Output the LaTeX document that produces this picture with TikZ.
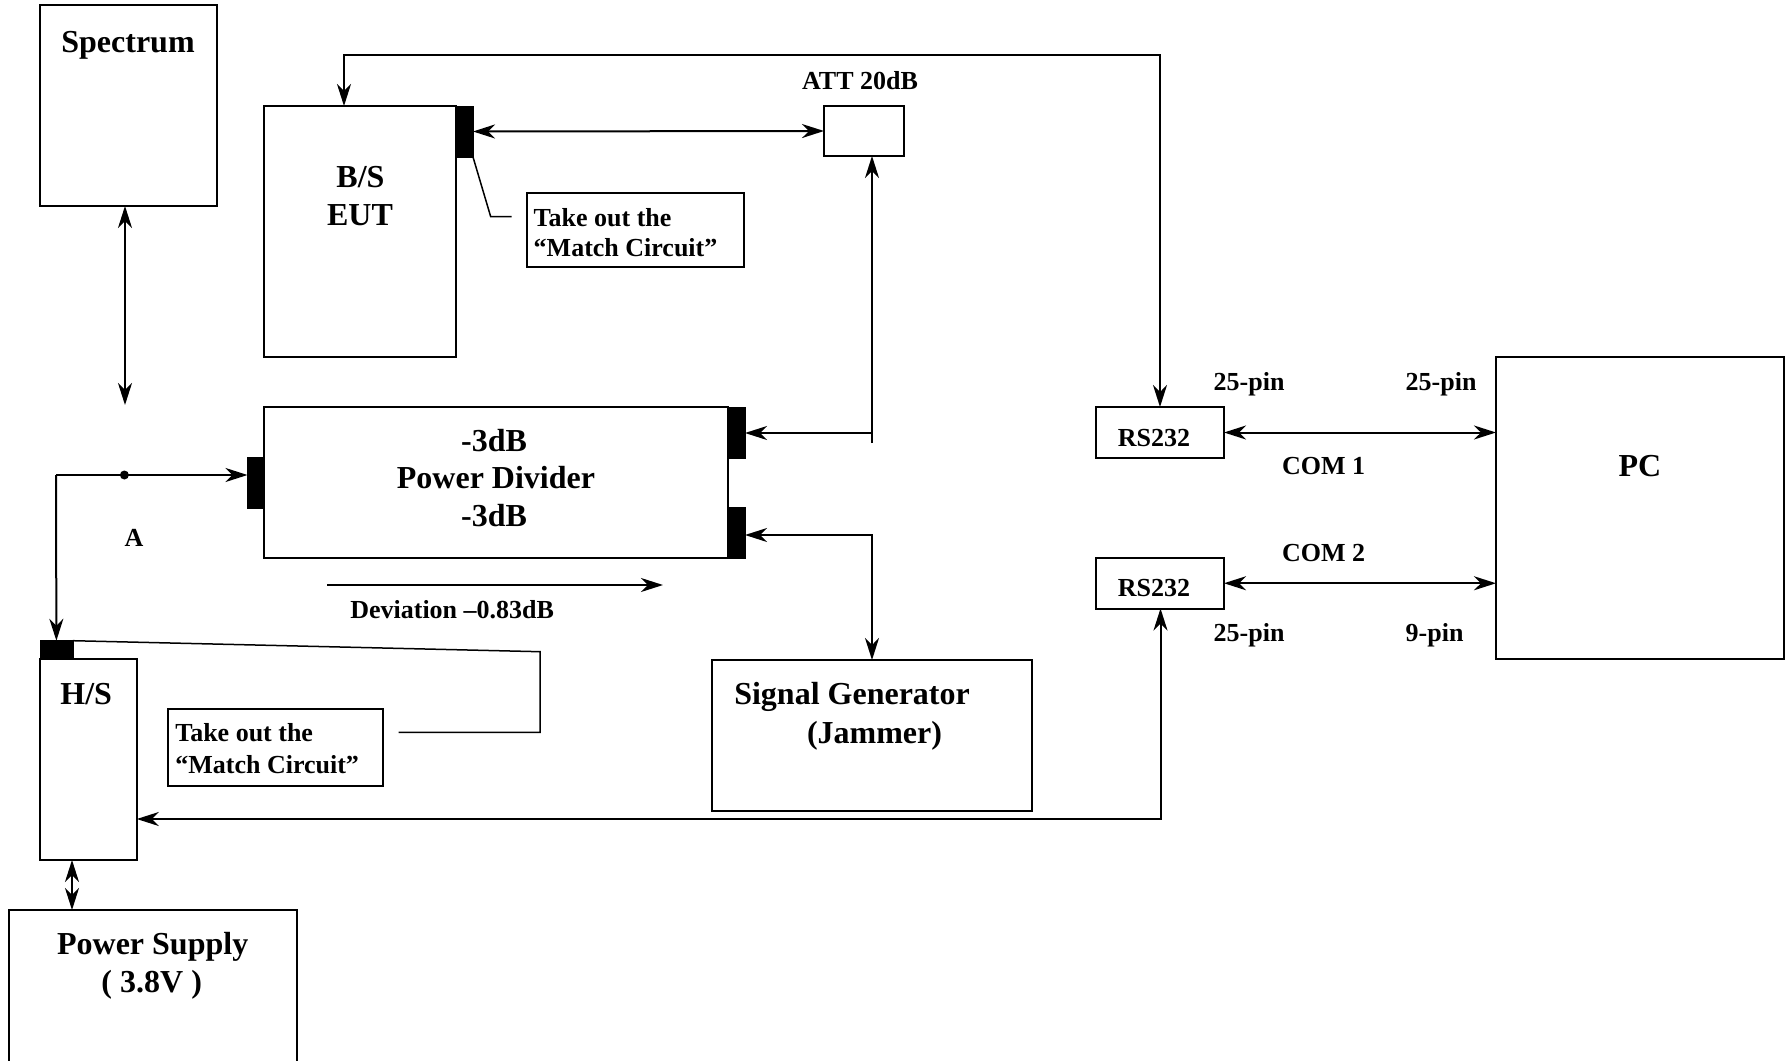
\documentclass[tikz,border=0pt]{standalone}
\usepackage{fontspec}
\setmainfont{Liberation Serif}
\usetikzlibrary{arrows.meta}
\begin{document}
\begin{tikzpicture}[x=1pt,y=-1pt,
  line width=2pt,
  >={Stealth[length=22pt,width=14pt,inset=7pt]},
  box/.style={draw,line width=2pt,inner sep=0pt,outer sep=0pt},
  port/.style={fill=black,draw=black,line width=0.5pt,inner sep=0pt,outer sep=0pt},
  big/.style={font=\fontsize{32}{36}\selectfont\bfseries,anchor=base,inner sep=0pt},
  sm/.style={font=\fontsize{26}{30}\selectfont\bfseries,anchor=base,inner sep=0pt},
  smw/.style={font=\fontsize{26}{30}\selectfont\bfseries,anchor=base west,inner sep=0pt},
  bigw/.style={font=\fontsize{32}{36}\selectfont\bfseries,anchor=base west,inner sep=0pt},
  dot/.style={circle,fill=black,inner sep=0pt,minimum size=9pt}]
\useasboundingbox (0,0) rectangle (1790,1060);
\clip (0,0) rectangle (1790,1060);
\fill[white] (0,0) rectangle (1790,1060);

% boxes
\node[box,minimum width=177pt,minimum height=201pt] (spec) at (128.5,105.5) {};
\node[box,minimum width=192pt,minimum height=251pt] (eut) at (360,231.5) {};
\node[port,minimum width=17pt,minimum height=51pt] (eutc) at (464.5,131.5) {};
\node[box,minimum width=80pt,minimum height=50pt] (att) at (864,131) {};
\node[box,minimum width=217pt,minimum height=74pt] (note1) at (635.5,230) {};
\node[box,minimum width=464pt,minimum height=151pt] (pd) at (496,482.5) {};
\node[port,minimum width=16.5pt,minimum height=51pt] (pdl) at (255.75,482.5) {};
\node[port,minimum width=17pt,minimum height=51pt] (pdr1) at (736.5,432.5) {};
\node[port,minimum width=17pt,minimum height=51pt] (pdr2) at (736.5,532.5) {};
\node[box,minimum width=320pt,minimum height=151pt] (sg) at (872,735.5) {};
\node[box,minimum width=128pt,minimum height=51pt] (rs1) at (1160,432.5) {};
\node[box,minimum width=128pt,minimum height=50.5pt] (rs2) at (1160,583.25) {};
\node[box,minimum width=288pt,minimum height=301.5pt] (pc) at (1640,507.75) {};
\node[box,minimum width=96.8pt,minimum height=201pt] (hs) at (88.4,759) {};
\node[port,minimum width=32.8pt,minimum height=17.6pt] (hsc) at (56.4,649.5) {};
\node[box,minimum width=215pt,minimum height=77.5pt] (note2) at (275.5,747.25) {};
\node[box,minimum width=288pt,minimum height=170pt] (ps) at (153,995) {};

% texts
\node[big] (tspec) at (128,52) {Spectrum};
\node[big] (tbs) at (360.5,187) {B/S};
\node[big] (teut) at (360,225) {EUT};
\node[sm] (tatt) at (860,89) {ATT 20dB};
\node[smw] (tn1a) at (532.7,226.7) {Take out the};
\node[smw] (tn1b) at (532.7,256.7) {“Match Circuit”};
\node[big] (tpd1) at (494,451.7) {-3dB};
\node[big] (tpd2) at (496,488.3) {Power Divider};
\node[big] (tpd3) at (494,526.7) {-3dB};
\node[smw] (tdev) at (349.3,618.3) {Deviation –0.83dB};
\node[bigw] (tsg1) at (733.3,704.3) {Signal Generator};
\node[bigw] (tsg2) at (806,743.3) {(Jammer)};
\node[sm] (trs1) at (1154,446) {RS232};
\node[sm] (trs2) at (1154,596.7) {RS232};
\node[smw] (tp1) at (1212.7,390.7) {25-pin};
\node[smw] (tp2) at (1404.7,390.7) {25-pin};
\node[smw] (tcom1) at (1281,474.3) {COM 1};
\node[smw] (tcom2) at (1281,561.7) {COM 2};
\node[smw] (tp3) at (1212.7,641.7) {25-pin};
\node[smw] (tp4) at (1404.7,641.7) {9-pin};
\node[big] (tpc) at (1640,476.7) {PC};
\node[sm] (tA) at (134,546) {A};
\node[big] (ths) at (86.2,704.3) {H/S};
\node[smw] (tn2a) at (174.3,741.7) {Take out the};
\node[smw] (tn2b) at (174.3,773.3) {“Match Circuit”};
\node[big] (tps1) at (152.7,954.3) {Power Supply};
\node[big] (tps2) at (151.7,992.7) {( 3.8V )};

% coordinates
\coordinate (specEnd) at (125,405);
\coordinate (Aleft) at (56,475);
\node[dot] (A) at (124.4,475) {};
\coordinate (topL) at (344,55);
\coordinate (topR) at (1160,55);
\coordinate (attV) at (872,443);
\coordinate (attH) at (872,433);
\coordinate (sgH) at (872,535);
\coordinate (botR) at (1160.5,819);
\coordinate (c1a) at (490.7,216.7);
\coordinate (c1b) at (511.7,216.7);
\coordinate (c2a) at (540,651.7);
\coordinate (c2b) at (540,732.3);
\coordinate (c2c) at (398.5,732.3);
\coordinate (devS) at (327,585);
\coordinate (devE) at (663,585);
\coordinate (psLine) at (72,860);

% connectors
\draw[<->] (spec.south -| specEnd) -- (specEnd);
\draw[->] (Aleft) -- (pdl.west |- Aleft);
\draw[->] (Aleft) -- (hsc.north);
\draw[<->] (eut.north -| topL) -- (topL) -- (topR) -- (rs1.north -| topR);
\draw[<->] (eutc.east) -- (att.west);
\draw[line width=1.5pt] (eutc.south east) -- (c1a) -- (c1b);
\draw[->] (attV) -- (att.south -| attV);
\draw[->] (attH) -- (pdr1.east |- attH);
\draw[<->] (pdr2.east |- sgH) -- (sgH) -- (sg.north -| sgH);
\draw[<->] (hs.east |- botR) -- (botR) -- (rs2.south -| botR);
\draw[<->] (rs1.east) -- (rs1.east -| pc.west);
\draw[<->] (rs2.east) -- (rs2.east -| pc.west);
\draw[<->] (psLine) -- (ps.north -| psLine);
\draw[line width=1.5pt] (hsc.north east) -- (c2a) -- (c2b) -- (c2c);
\draw[->] (devS) -- (devE);
\end{tikzpicture}
\end{document}
